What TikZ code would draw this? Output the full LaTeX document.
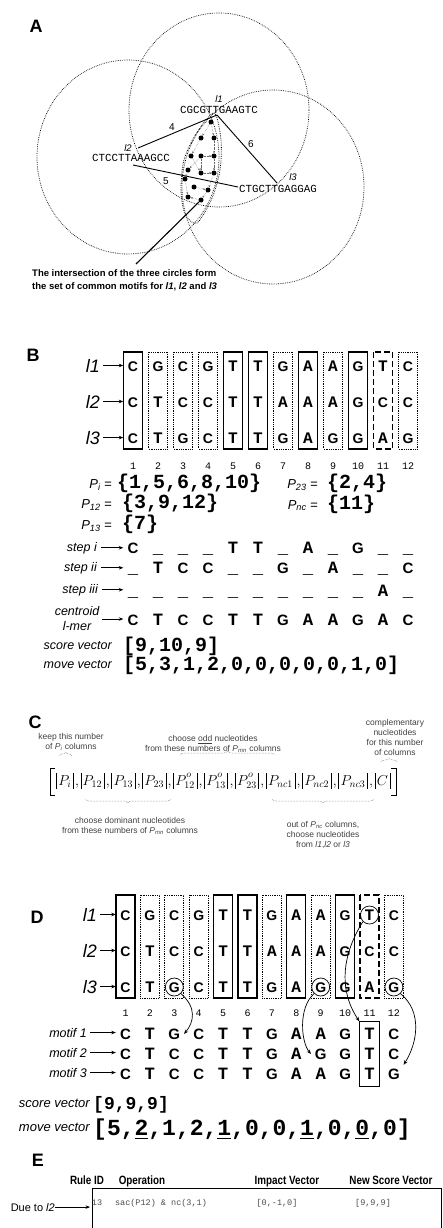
\documentclass[tikz,border=0pt]{standalone}
\usepackage{amsmath,amssymb}
\usepackage{fontspec}
\setmainfont{Liberation Serif}
\setsansfont{Liberation Sans}
\setmonofont{Liberation Mono}
\newfontfamily\ntmono[Scale=1.15]{Liberation Mono}
\newfontfamily\narrowsans[FakeStretch=0.82]{Liberation Sans}
\usepackage{tikz}
\usetikzlibrary{positioning,arrows.meta,calc,fit,decorations.pathreplacing}

\newcommand\fsz[1]{\fontsize{#1}{#1}\selectfont}
% C and G come out of the sans face, A and T out of the typewriter face, x is a gap
\newcommand\nt[1]{\if#1x{\ntmono\bfseries\_}\else\if#1C{\sffamily\bfseries C}\else
  \if#1G{\sffamily\bfseries G}\else{\ntmono\bfseries#1}\fi\fi\fi}
\newcommand\vbar{\rule[-3.5pt]{0.5pt}{16pt}}
\newcommand\card[1]{\vbar\mkern2mu#1\mkern2mu\vbar}
\newcommand\sep{\mkern2mu{,}\mkern2mu}
\newcommand\podd[1]{P^{\raisebox{2.5pt}{$\scriptstyle o$}}_{#1}}

\begin{document}
\begin{tikzpicture}[x=1pt,y=-1pt,
  panel/.style={font=\sffamily\bfseries\fsz{18},inner sep=0pt},
  seqlab/.style={font=\sffamily\itshape\fsz{18},inner sep=0pt,anchor=base east},
  ntbox/.style={font=\fsz{14},inner sep=0pt,minimum width=19pt,text height=10pt,text depth=0pt,anchor=base},
  ntrow/.style={font=\fsz{15},inner sep=0pt,minimum width=19pt,text height=10pt,text depth=0pt,anchor=base},
  kept/.style={draw,line width=1.1pt},
  pair/.style={draw,line width=0.7pt,dash pattern=on 0.7pt off 1.1pt},
  nocon/.style={draw,line width=1.1pt,dash pattern=on 6pt off 3pt},
  arr/.style={-{Stealth[length=4.5pt,width=3.5pt]},line width=0.7pt},
  sidelab/.style={font=\sffamily\itshape\fsz{12.5},inner sep=0pt,anchor=base east},
  setlab/.style={font=\sffamily\itshape\fsz{13},inner sep=0pt,anchor=base east},
  vec/.style={font=\ttfamily\bfseries\fsz{20},inner sep=0pt,anchor=base west},
  colnum/.style={font=\ttfamily\fsz{10},inner sep=0pt,anchor=base},
  note/.style={font=\sffamily\fontsize{8.5}{10}\selectfont,text=black!75,align=center,inner sep=0pt},
  fml/.style={font=\fsz{14.5},inner sep=0pt},
  brc/.style={decorate,decoration={brace,amplitude=4pt},draw=black!60,densely dotted,line width=0.5pt},
  motifdot/.style={circle,fill,inner sep=0pt,minimum size=5pt},
  hop/.style={-{Stealth[length=2.2pt,width=2pt]},densely dotted,draw=black!60,line width=0.45pt},
  ring/.style={circle,draw,line width=0.7pt,minimum size=18pt,inner sep=0pt},
  thead/.style={font=\narrowsans\bfseries\fsz{12},inner sep=0pt,anchor=base},
  tcell/.style={font=\ttfamily\fsz{8.5},text=black!70,inner sep=0pt,anchor=base}]
\useasboundingbox (0,0) rectangle (443,1228);

% ---- A: the three l-mers and their neighbourhoods ----
\node[panel] (pA) at (36,26) {A};
\draw[pair] (219,110) ellipse [x radius=90pt,y radius=97pt];
\draw[pair] (128,157) ellipse [x radius=91pt,y radius=97pt];
\draw[pair] (273,187) ellipse [x radius=91pt,y radius=97pt];
\node[font=\sffamily\itshape\fsz{9.5},inner sep=0pt] (lA1) at (219,99) {l1};
\node[font=\ttfamily\fsz{10.8},inner sep=0pt] (sA1) at (219,110) {CGCGTTGAAGTC};
\node[font=\sffamily\itshape\fsz{9.5},inner sep=0pt] (lA2) at (128,148) {l2};
\node[font=\ttfamily\fsz{10.8},inner sep=0pt] (sA2) at (131,158) {CTCCTTAAAGCC};
\node[font=\sffamily\itshape\fsz{9.5},inner sep=0pt] (lA3) at (293,177) {l3};
\node[font=\ttfamily\fsz{10.8},inner sep=0pt] (sA3) at (278,189) {CTGCTTGAGGAG};
\coordinate (a1) at (217,115);
\coordinate (a2) at (138,148);
\coordinate (a3) at (277,183);
\coordinate (a4) at (133,165);
\coordinate (a5) at (238,187);
\draw[line width=0.9pt] (a1) -- (a2);
\draw[line width=0.9pt] (a1) -- (a3);
\draw[line width=0.9pt] (a4) -- (a5);
\node[font=\sffamily\fsz{10},inner sep=0pt] (w4) at (172,127) {4};
\node[font=\sffamily\fsz{10},inner sep=0pt] (w6) at (251,144) {6};
\node[font=\sffamily\fsz{10},inner sep=0pt] (w5) at (166,181) {5};
\draw[pair,line width=0.8pt] plot[smooth cycle] coordinates {(214,113) (221,140) (220,170) (212,198) (197,223) (185,214) (181,190) (184,160) (196,134)};
\foreach \p [count=\i] in {(211,122),(201,138),(214,138),(191,156),(201,156),(214,156),(188,170),(201,173),(214,173),(185,179),(194,187),(208,190),(188,197),(201,200)}
  \node[motifdot] (d\i) at \p {};
\foreach \a/\b in {1/2,1/3,2/4,3/6,5/6,4/8,5/7,5/8,8/9,6/9,7/10,11/12,9/12,12/14,14/13,10/13}
  \draw[hop] (d\a) -- (d\b);
\coordinate (capA) at (136,264);
\draw[line width=1.1pt] (d14) -- (capA);
\node[font=\sffamily\bfseries\fontsize{9.5}{13}\selectfont,align=left,anchor=north west,inner sep=0pt] (capt) at (32,269)
  {The intersection of the three circles form\\the set of common motifs for \textit{l1}, \textit{l2} and \textit{l3}};

% ---- B: alignment, column classes, steps ----
\node[panel] (pB) at (33,355) {B};
\foreach \k/\s in {1/kept,2/pair,3/pair,4/pair,5/kept,6/kept,7/pair,8/kept,9/pair,10/kept,11/nocon,12/pair}
  \draw[\s] ({98.5+25*\k},352) rectangle +(19,97);
\foreach \s [count=\c] in {C,G,C,G,T,T,G,A,A,G,T,C} \node[ntbox] (b1-\c) at ({108+25*\c},371) {\nt{\s}};
\foreach \s [count=\c] in {C,T,C,C,T,T,A,A,A,G,C,C} \node[ntbox] (b2-\c) at ({108+25*\c},407) {\nt{\s}};
\foreach \s [count=\c] in {C,T,G,C,T,T,G,A,G,G,A,G} \node[ntbox] (b3-\c) at ({108+25*\c},443) {\nt{\s}};
\foreach \r/\y in {1/372,2/408,3/444} {
  \node[seqlab] (bl\r) at (100,\y) {l\r};
  \draw[arr,shorten <=3pt] (bl\r.east) -- (bl\r.east -| b\r-1.west);
}
\foreach \c in {1,...,12} \node[colnum] (bn\c) at ({108+25*\c},469) {\c};
\node[setlab] (pi) at (112,488) {P\textsubscript{i} =};
\node[vec] (piset) at (117,488) {\{1,5,6,8,10\}};
\node[setlab] (p12) at (112,508) {P\textsubscript{12} =};
\node[vec] (p12set) at (122,508) {\{3,9,12\}};
\node[setlab] (p13) at (112,529) {P\textsubscript{13} =};
\node[vec] (p13set) at (122,529) {\{7\}};
\node[setlab] (p23) at (318,488) {P\textsubscript{23} =};
\node[vec] (p23set) at (327,488) {\{2,4\}};
\node[setlab] (pnc) at (318,509) {P\textsubscript{nc} =};
\node[vec] (pncset) at (327,509) {\{11\}};
\foreach \s [count=\c] in {C,x,x,x,T,T,x,A,x,G,x,x} \node[ntrow] (s1-\c) at ({108+25*\c},553) {\nt{\s}};
\foreach \s [count=\c] in {x,T,C,C,x,x,G,x,A,x,x,C} \node[ntrow] (s2-\c) at ({108+25*\c},573) {\nt{\s}};
\foreach \s [count=\c] in {x,x,x,x,x,x,x,x,x,x,A,x} \node[ntrow] (s3-\c) at ({108+25*\c},596) {\nt{\s}};
\foreach \s [count=\c] in {C,T,C,C,T,T,G,A,A,G,A,C} \node[ntrow] (cm-\c) at ({108+25*\c},625) {\nt{\s}};
\node[sidelab] (st1) at (97,551) {step i};
\node[sidelab] (st2) at (97,571) {step ii};
\node[sidelab] (st3) at (98,593) {step iii};
\foreach \r in {1,2,3} \draw[arr,shorten <=4pt] (st\r.east) -- (st\r.east -| s\r-1.west);
\node[sidelab,align=center,anchor=center,font=\sffamily\itshape\fontsize{12.5}{15}\selectfont] (cen) at (77,619) {centroid\\l-mer};
\draw[arr,shorten <=3pt] (cen.east) -- (cen.east -| cm-1.west);
\node[sidelab] (scB) at (112,649) {score vector};
\node[vec] (scBv) at (123,651) {[9,10,9]};
\node[sidelab] (mvB) at (112,668) {move vector};
\node[vec] (mvBv) at (123,670) {[5,3,1,2,0,0,0,0,0,1,0]};

% ---- C: layout of the move vector ----
\node[panel] (pC) at (35,722) {C};
\node[fml,anchor=base west] (fm) at (56,785)
  {$\card{P_i}\sep\card{P_{12}}\sep\card{P_{13}}\sep\card{P_{23}}\sep\card{\podd{12}}\sep\card{\podd{13}}\sep\card{\podd{23}}\sep\card{P_{nc1}}\sep\card{P_{nc2}}\sep\card{P_{nc3}}\sep\card{C}$};
\draw[line width=0.5pt] ([xshift=-1pt,yshift=4.5pt]fm.north west) -- ++(-5,0) |- ([xshift=-1pt,yshift=-6.5pt]fm.south west);
\draw[line width=0.5pt] ([xshift=1pt,yshift=4.5pt]fm.north east) -- ++(5,0) |- ([xshift=1pt,yshift=-6.5pt]fm.south east);
\draw[brc] (59,756) -- (72,756);
\draw[brc] (180,755) -- (275,755);
\draw[brc] (381,762) -- (397,762);
\draw[brc] (171,799) -- (85,799);
\draw[brc] (374,799) -- (272,799);
\node[note] (nkeep) at (71,742) {keep this number\\of \textit{P}\textsubscript{\textit{i}} columns};
\node[note] (nodd) at (213,744) {choose \underline{odd} nucleotides\\from these numbers of \textit{P}\textsubscript{\textit{mn}} columns};
\node[note] (ncomp) at (395,737) {complementary\\nucleotides\\for this number\\of columns};
\node[note] (ndom) at (130,826) {choose dominant nucleotides\\from these numbers of \textit{P}\textsubscript{\textit{mn}} columns};
\node[note] (nout) at (323,835) {out of \textit{P}\textsubscript{\textit{nc}} columns,\\choose nucleotides\\from \textit{l1},\textit{l2} or \textit{l3}};

% ---- D: three motifs built from the centroid ----
\node[panel] (pD) at (37,917) {D};
\foreach \k/\s in {1/kept,2/pair,3/pair,4/pair,5/kept,6/kept,7/pair,8/kept,9/pair,10/kept,11/nocon,12/pair}
  \draw[\s] ({91.6+24.4*\k},895) rectangle +(19,103);
\foreach \s [count=\c] in {C,G,C,G,T,T,G,A,A,G,T,C} \node[ntbox] (d1-\c) at ({101.1+24.4*\c},920) {\nt{\s}};
\foreach \s [count=\c] in {C,T,C,C,T,T,A,A,A,G,C,C} \node[ntbox] (d2-\c) at ({101.1+24.4*\c},956) {\nt{\s}};
\foreach \s [count=\c] in {C,T,G,C,T,T,G,A,G,G,A,G} \node[ntbox] (d3-\c) at ({101.1+24.4*\c},992) {\nt{\s}};
\foreach \r/\y in {1/921,2/957,3/993} {
  \node[seqlab] (dl\r) at (97,\y) {l\r};
  \draw[arr,shorten <=3pt] (dl\r.east) -- (dl\r.east -| d\r-1.west);
}
\foreach \c in {1,...,12} \node[colnum] (dn\c) at ({101.1+24.4*\c},1016) {\c};
\foreach \s [count=\c] in {C,T,G,C,T,T,G,A,A,G,T,C} \node[ntrow] (m1-\c) at ({101.1+24.4*\c},1039) {\nt{\s}};
\foreach \s [count=\c] in {C,T,C,C,T,T,G,A,G,G,T,C} \node[ntrow] (m2-\c) at ({101.1+24.4*\c},1059) {\nt{\s}};
\foreach \s [count=\c] in {C,T,C,C,T,T,G,A,A,G,T,G} \node[ntrow] (m3-\c) at ({101.1+24.4*\c},1079) {\nt{\s}};
\foreach \r/\y in {1/1037,2/1057,3/1077} {
  \node[sidelab] (mo\r) at (87,\y) {motif \r};
  \draw[arr,shorten <=3pt] (mo\r.east) -- (mo\r.east -| m\r-1.west);
}
\node[draw,line width=0.9pt,inner xsep=0pt,inner ysep=7pt,fit=(m1-11)(m3-11)] (mbox) {};
\foreach \n in {d1-11,d3-3,d3-9,d3-12} \node[ring] (o-\n) at (\n) {};
\draw[arr] (o-d1-11.south west) .. controls +(-22,35) and +(-20,-30) .. (mbox.north west);
\draw[arr] (o-d3-3.south east) .. controls +(16,14) and +(10,-12) .. (m1-3.east);
\draw[arr] (o-d3-9.south west) .. controls +(-16,14) and +(-10,-12) .. (m2-9.west);
\draw[arr] (o-d3-12.south east) .. controls +(22,18) and +(14,-22) .. ([yshift=4pt]m3-12.north east);
\node[sidelab,font=\sffamily\itshape\fsz{13}] (scD) at (90,1107) {score vector};
\node[vec,font=\ttfamily\bfseries\fsz{18}] (scDv) at (93,1109) {[9,9,9]};
\node[sidelab,font=\sffamily\itshape\fsz{13}] (mvD) at (90,1131) {move vector};
\node[vec,font=\ttfamily\bfseries\fsz{23}] (mvDv) at (93,1135) {[5,\underline{2},1,2,\underline{1},0,0,\underline{1},0,\underline{0},0]};

% ---- E: rule table ----
\node[panel] (pE) at (38,1160) {E};
\node[draw,line width=0.9pt,minimum width=349pt,minimum height=60pt,anchor=north west,inner sep=0pt] (tbl) at (92,1188) {};
\node[thead] (hRule) at (87,1184) {Rule ID};
\node[thead] (hOp) at (142,1184) {Operation};
\node[thead] (hImp) at (287,1184) {Impact Vector};
\node[thead] (hNew) at (391,1184) {New Score Vector};
\node[tcell] (r1) at (97,1205) {13};
\node[tcell] (r2) at (161,1205) {sac(P12) \& nc(3,1)};
\node[tcell] (r3) at (277,1205) {[0,-1,0]};
\node[tcell] (r4) at (373,1205) {[9,9,9]};
\node[font=\sffamily\fsz{11},anchor=base east,inner sep=0pt] (due) at (55,1211) {Due to \textit{l2}};
\coordinate (tin) at (90,1207);
\draw[arr] (due.east) -- (due.east -| tin);
\end{tikzpicture}
\end{document}
